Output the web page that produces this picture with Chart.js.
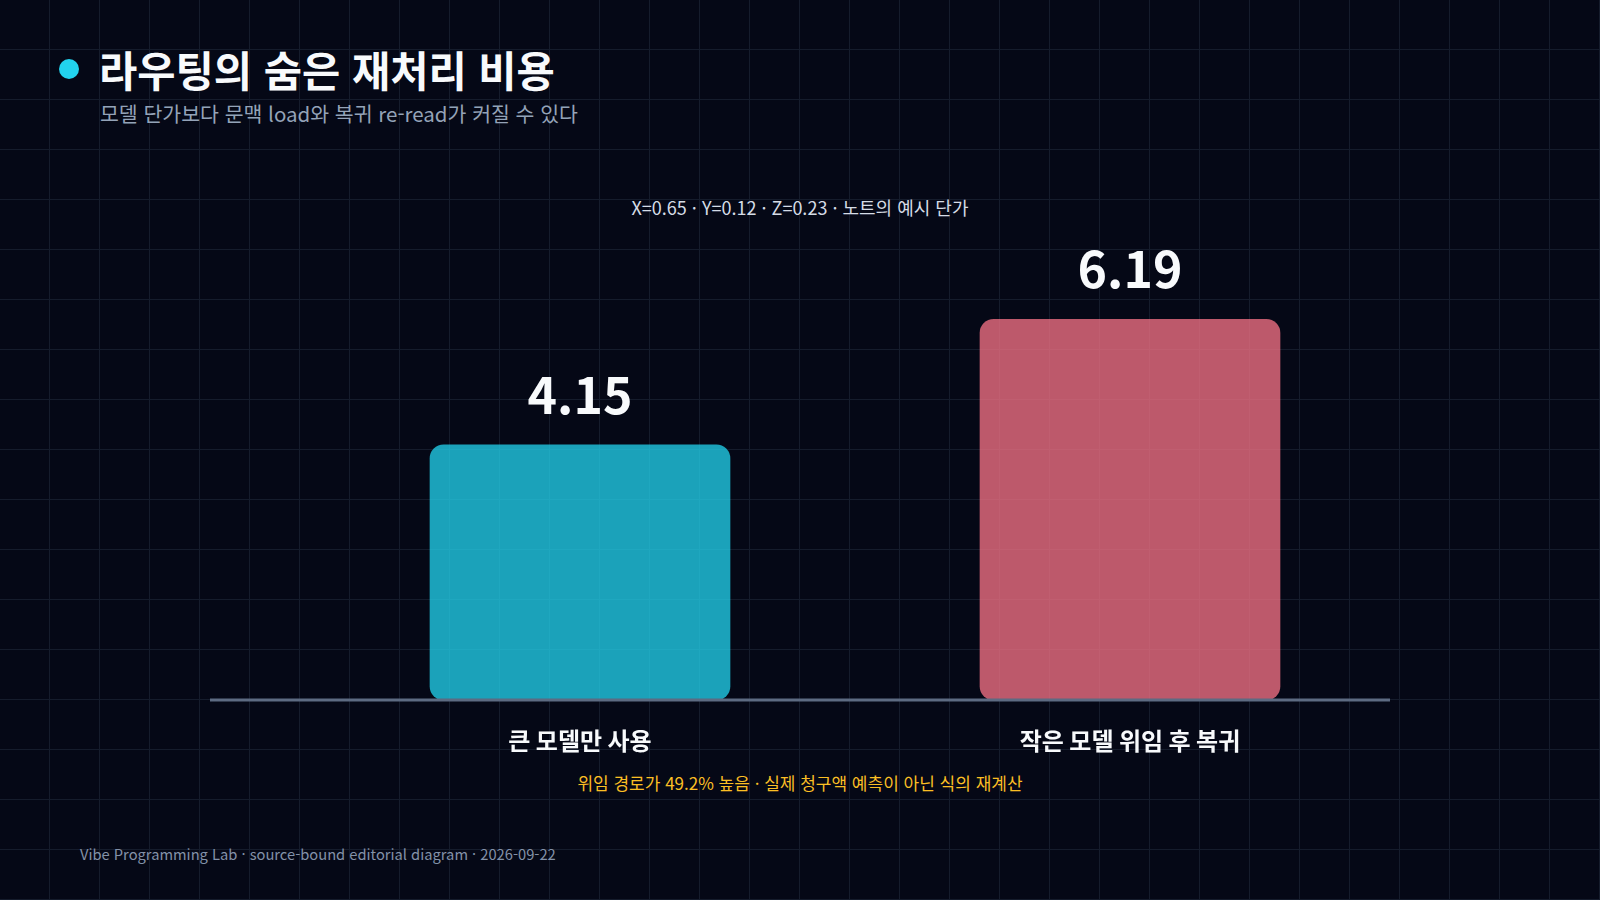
<!DOCTYPE html>
<html lang="ko">
<head>
<meta charset="utf-8">
<title>라우팅의 숨은 재처리 비용</title>
<script src="https://cdn.jsdelivr.net/npm/chart.js@4.4.1/dist/chart.umd.min.js"></script>
<style>
    html, body {
        margin: 0;
        padding: 0;
    }

    body {
        width: 1600px;
        height: 900px;
        overflow: hidden;
        position: relative;
        background-color: #050816;
        background-image:
            linear-gradient(to right, #151c2c 1.5px, transparent 1.5px),
            linear-gradient(to bottom, #151c2c 1.5px, transparent 1.5px);
        background-size: 50px 50px;
        background-position: -1px -1px;
        font-family: "Noto Sans CJK KR", "Noto Sans", sans-serif;
    }

    .title-dot {
        position: absolute;
        left: 59px;
        top: 59px;
        width: 20px;
        height: 20px;
        border-radius: 50%;
        background: #22d3ee;
    }

    .title {
        position: absolute;
        left: 99px;
        top: 41px;
        font-size: 41.6px;
        font-weight: 700;
        color: #f8fafc;
        line-height: 56px;
    }

    .subtitle {
        position: absolute;
        left: 100px;
        top: 99px;
        font-size: 20.5px;
        color: #94a3b8;
        line-height: 28px;
    }

    .note {
        position: absolute;
        left: 0;
        width: 1600px;
        text-align: center;
        line-height: 24px;
    }

    .footer {
        position: absolute;
        left: 80px;
        top: 843px;
        font-size: 14.7px;
        line-height: 22px;
        color: #8391a8;
    }

    #chartBox {
        position: absolute;
        left: 0;
        top: 0;
        width: 1600px;
        height: 900px;
    }
</style>
</head>
<body>
<div class="title-dot"></div>
<div class="title">라우팅의 숨은 재처리 비용</div>
<div class="subtitle">모델 단가보다 문맥 load와 복귀 re-read가 커질 수 있다</div>
<div class="note" style="top: 195px; font-size: 18px; color: #d5dce6;">X=0.65 · Y=0.12 · Z=0.23 · 노트의 예시 단가</div>
<div class="note" style="top: 771px; font-size: 17px; color: #fbbf24;">위임 경로가 49.2% 높음 · 실제 청구액 예측이 아닌 식의 재계산</div>
<div class="footer">Vibe Programming Lab · source-bound editorial diagram · 2026-09-22</div>

<div id="chartBox">
    <canvas id="costChart"></canvas>
</div>

<script>
const categories = ['큰 모델만 사용', '작은 모델 위임 후 복귀'];
const costValues = [4.15, 6.19];
const yMax = 8;

const barColors = ['rgba(34, 211, 238, 0.76)', 'rgba(244, 114, 133, 0.77)'];

// 기준선 (막대 아래 가로선)
const baselinePlugin = {
    id: 'baseline',
    afterDatasetsDraw(chart) {
        const ctx = chart.ctx;
        const y = chart.scales.y.getPixelForValue(0);

        ctx.save();
        ctx.strokeStyle = '#5d6b82';
        ctx.lineWidth = 3;
        ctx.beginPath();
        ctx.moveTo(210, y);
        ctx.lineTo(1390, y);
        ctx.stroke();
        ctx.restore();
    }
};

// 막대 위 값 표시
const valueLabelPlugin = {
    id: 'valueLabels',
    afterDatasetsDraw(chart) {
        const ctx = chart.ctx;
        const meta = chart.getDatasetMeta(0);

        ctx.save();
        ctx.fillStyle = '#f8fafc';
        ctx.font = '700 50px "Noto Sans CJK KR", "Noto Sans", sans-serif';
        ctx.textAlign = 'center';
        ctx.textBaseline = 'middle';

        meta.data.forEach((bar, i) => {
            ctx.fillText(costValues[i].toFixed(2), bar.x, bar.y - 50);
        });

        ctx.restore();
    }
};

function initCostChart() {
    const canvas = document.getElementById('costChart');

    if (!canvas) {
        return;
    }

    const ctx = canvas.getContext('2d');

    new Chart(ctx, {
        type: 'bar',
        data: {
            labels: categories,
            datasets: [{
                label: '비용',
                data: costValues,
                backgroundColor: barColors,
                borderRadius: 14,
                borderSkipped: false,
                barThickness: 300
            }]
        },
        options: {
            responsive: true,
            maintainAspectRatio: false,
            animation: false,
            layout: {
                padding: {
                    left: 305,
                    right: 195,
                    top: 208,
                    bottom: 0
                }
            },
            plugins: {
                legend: {
                    display: false
                },
                tooltip: {
                    enabled: false
                }
            },
            scales: {
                x: {
                    grid: {
                        display: false
                    },
                    border: {
                        display: false
                    },
                    ticks: {
                        color: '#f8fafc',
                        padding: 18,
                        font: {
                            family: '"Noto Sans CJK KR", "Noto Sans", sans-serif',
                            size: 24,
                            weight: '700'
                        }
                    },
                    afterFit(scale) {
                        scale.height = 200;
                    }
                },
                y: {
                    display: false,
                    min: 0,
                    max: yMax
                }
            }
        },
        plugins: [baselinePlugin, valueLabelPlugin]
    });
}

initCostChart();
</script>
</body>
</html>
